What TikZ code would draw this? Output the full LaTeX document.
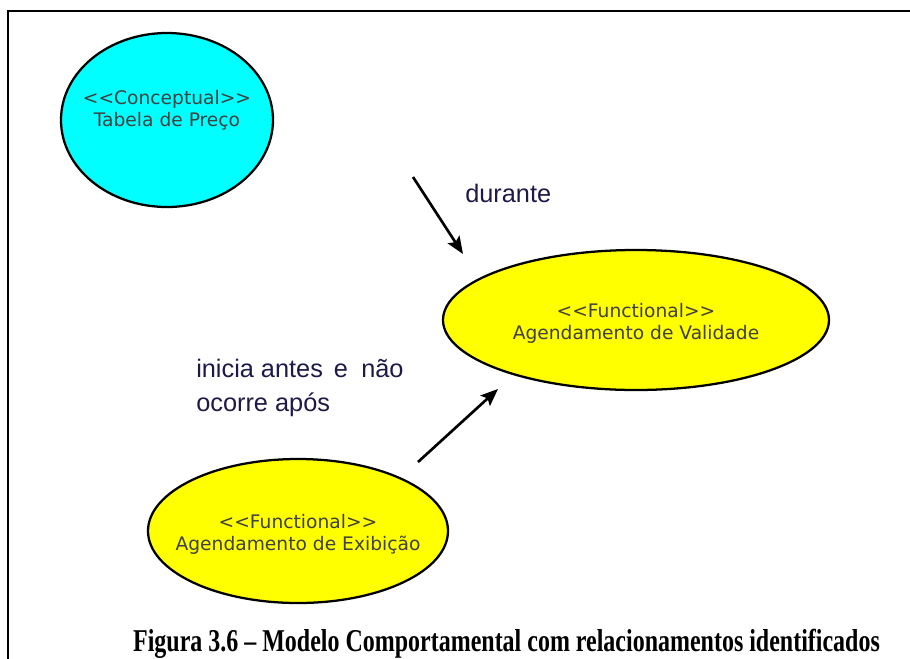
\documentclass[tikz,border=0pt]{standalone}
\usepackage{fontspec}
\setmainfont{Liberation Serif}
\newfontfamily\labelfont{Liberation Sans}
\newfontfamily\nodefont{DejaVu Sans}
\usetikzlibrary{shapes.geometric,arrows.meta}
\definecolor{ucyan}{RGB}{0,255,255}
\definecolor{uyellow}{RGB}{255,255,0}
\definecolor{ntext}{RGB}{64,64,64}
\definecolor{ltext}{RGB}{30,25,70}
\newlength\capw
\begin{document}
\settowidth\capw{\fontsize{23.8}{28}\selectfont\bfseries Figura 3.6 – Modelo Comportamental com relacionamentos identificados}
\pgfmathsetmacro\capsc{560/\capw}
\begin{tikzpicture}[x=0.75pt,y=-0.75pt,
  usecase/.style={ellipse,draw=black,line width=1.7pt,inner sep=0pt},
  etext/.style={font=\nodefont\fontsize{14}{16.5}\selectfont,text=ntext,align=center,inner sep=0pt},
  lbl/.style={font=\labelfont\fontsize{19}{25.5}\selectfont,text=ltext,align=left,inner sep=0pt},
  rel/.style={line width=2pt,-{Stealth[length=13pt,width=10.5pt,inset=2.5pt]}}]
\useasboundingbox (0,0) rectangle (910,658);
% frame
\draw[line width=1.7pt] (8,660) -- (8,11) -- (912,11);
% use cases
\node[usecase,fill=ucyan,minimum width=159pt,minimum height=130.5pt] (cp) at (167,120) {};
\node[etext] (cpt) at (167,110) {<<Conceptual>>\\Tabela de Preço};
\node[usecase,fill=uyellow,minimum width=289.5pt,minimum height=105pt] (val) at (636,320) {};
\node[etext] (valt) at (636,323) {<<Functional>>\\Agendamento de Validade};
\node[usecase,fill=uyellow,minimum width=225pt,minimum height=108pt] (exi) at (298,531) {};
\node[etext] (exit) at (298,534) {<<Functional>>\\Agendamento de Exibição};
% relations
\coordinate (a1s) at (413,177);
\coordinate (a1e) at (463,254);
\coordinate (a2s) at (418,462);
\coordinate (a2e) at (498,389);
\draw[rel] (a1s) -- (a1e);
\draw[rel] (a2s) -- (a2e);
\node[lbl,anchor=base west] (l1) at (465,202) {durante};
\node[lbl,anchor=base west] (l2a) at (196,377) {inicia antes\hspace{0.15em} e\hspace{0.25em} não};
\node[lbl,anchor=base west] (l2b) at (196,411) {ocorre após};
% caption
\node[anchor=base,inner sep=0pt,xscale=\capsc,font=\fontsize{23.8}{28}\selectfont\bfseries] (cap) at (506.5,651) {Figura 3.6 – Modelo Comportamental com relacionamentos identificados};
\end{tikzpicture}
\end{document}
